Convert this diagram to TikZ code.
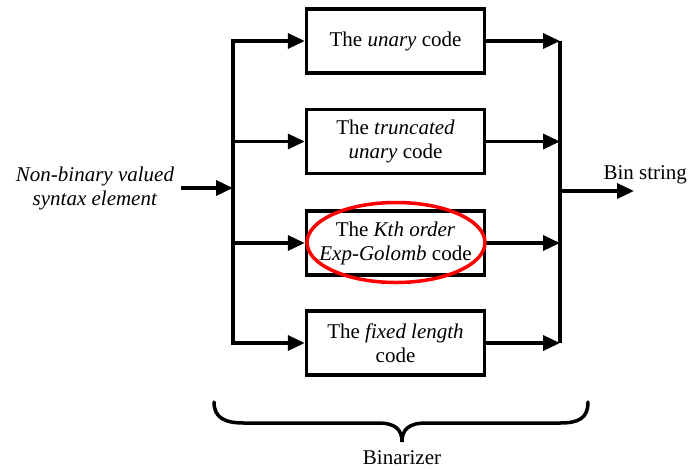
\documentclass[tikz,border=0pt]{standalone}
\usepackage{fontspec}
\setmainfont{Liberation Serif}
\usetikzlibrary{arrows.meta}
\begin{document}
\begin{tikzpicture}[x=1pt,y=-1pt,
  codebox/.style={draw,line width=3.5pt,minimum width=178pt,minimum height=64pt,align=center,font=\fontsize{21}{24}\selectfont,inner sep=2pt},
  wire/.style={line width=3.5pt},
  arr/.style={line width=3.5pt,-{Triangle[length=17pt,width=15pt]}},
  lbl/.style={font=\fontsize{21}{24}\selectfont,align=center}]
\useasboundingbox (0,0) rectangle (700,469);
\node[codebox] (b1) at (395.5,41) {The \textit{unary} code};
\node[codebox] (b2) at (395.5,141.5) {The \textit{truncated}\\\textit{unary} code};
\node[codebox] (b3) at (395.5,243) {The \textit{Kth order}\\\textit{Exp-Golomb} code};
\node[codebox] (b4) at (395.5,343) {The \textit{fixed length}\\code};
% left bus
\coordinate (l1) at (233,41);
\coordinate (l2) at (233,141.5);
\coordinate (l3) at (233,243);
\coordinate (l4) at (233,343);
\coordinate (lin) at (233,188);
\coordinate (inst) at (181,188);
\draw[wire,line cap=rect] (l1) -- (l4);
\foreach \i in {1,2,3,4} \draw[arr] (l\i) -- (b\i.west);
\node[lbl] (inp) at (95,188) {\textit{Non-binary valued}\\\textit{syntax element}};
\draw[arr] (inst) -- (lin);
% right bus
\coordinate (r1) at (560,41);
\coordinate (r2) at (560,141.5);
\coordinate (r3) at (560,243);
\coordinate (r4) at (560,343);
\coordinate (rout) at (560,191);
\coordinate (outend) at (634,191);
\draw[wire] (r1) -- (r4);
\foreach \i in {1,2,3,4} \draw[arr] (b\i.east) -- (r\i);
\draw[arr] (rout) -- (outend);
\node[lbl,anchor=west] (bs) at (600,175) {Bin string};
% ellipse
\draw[red,line width=3.5pt] (396,242.5) ellipse [x radius=89pt,y radius=40pt];
% brace
\draw[line width=3.5pt,line cap=round] (214,402) .. controls (214,418) and (225,423) .. (244,423) -- (378,423) .. controls (396,423) and (402,430) .. (402,442) .. controls (402,430) and (408,423) .. (426,423) -- (560,423) .. controls (579,423) and (588,418) .. (588,402);
\node[lbl] (bz) at (402,458) {Binarizer};
\end{tikzpicture}
\end{document}
